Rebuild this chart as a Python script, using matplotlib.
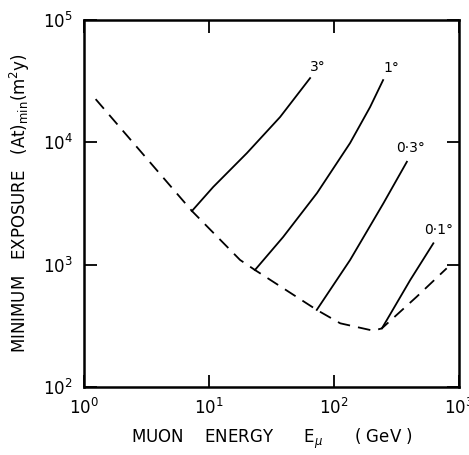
import matplotlib

matplotlib.use("Agg")
import matplotlib.pyplot as plt
from matplotlib.ticker import LogLocator, NullLocator

# dashed envelope: minimum exposure vs muon energy
env_e = [1.24, 7.3, 17.7, 23.3, 72.7, 112, 206, 241, 458, 795]
env_y = [22400, 2735, 1090, 902, 426, 331, 288, 301, 546, 931]

# solid lines for fixed angular resolution
e_3deg = [7.3, 10.8, 20.1, 37.0, 64.3]
y_3deg = [2735, 4295, 8130, 16000, 33270]
e_1deg = [23.3, 39.1, 73.1, 134.3, 194, 246.6]
y_1deg = [902, 1675, 3837, 9820, 19300, 32060]
e_03deg = [72.7, 134.3, 248, 382]
y_03deg = [426, 1089, 3162, 6900]
e_01deg = [241, 264, 406, 622]
y_01deg = [301, 352, 746, 1490]

labels = ["3°", "1°", "0·3°", "0·1°"]
label_e = [74.5, 289, 406, 683]
label_y = [40900, 40000, 8890, 1914]

fig = plt.figure(figsize=(4.69, 4.55), dpi=100)
ax = fig.add_axes([0.179, 0.1495, 0.8, 0.8075])

ax.plot(env_e, env_y, color="black", lw=1.3, ls=(0, (7, 4.5)))
for e, y in [(e_3deg, y_3deg), (e_1deg, y_1deg), (e_03deg, y_03deg), (e_01deg, y_01deg)]:
    ax.plot(e, y, color="black", lw=1.3)
for txt, x, y in zip(labels, label_e, label_y):
    ax.text(x, y, txt, fontsize=10, ha="center", va="center")

ax.set_xscale("log")
ax.set_yscale("log")
ax.set_xlim(1, 1000)
ax.set_ylim(100, 1e5)
ax.xaxis.set_major_locator(LogLocator(base=10, numticks=10))
ax.yaxis.set_major_locator(LogLocator(base=10, numticks=10))
ax.xaxis.set_minor_locator(NullLocator())
ax.yaxis.set_minor_locator(NullLocator())
ax.tick_params(which="major", direction="in", length=9, width=1.3,
               top=True, right=True, labelsize=12, pad=8)
for s in ax.spines.values():
    s.set_linewidth(1.8)

ax.set_xlabel("MUON    ENERGY      E$_{\\mu}$      ( GeV )", fontsize=12, labelpad=6)
ax.set_ylabel("MINIMUM   EXPOSURE   (At)$_{\\mathrm{min}}$(m$^{2}$y)", fontsize=12, labelpad=8)

fig.savefig("out.png", dpi=100)
